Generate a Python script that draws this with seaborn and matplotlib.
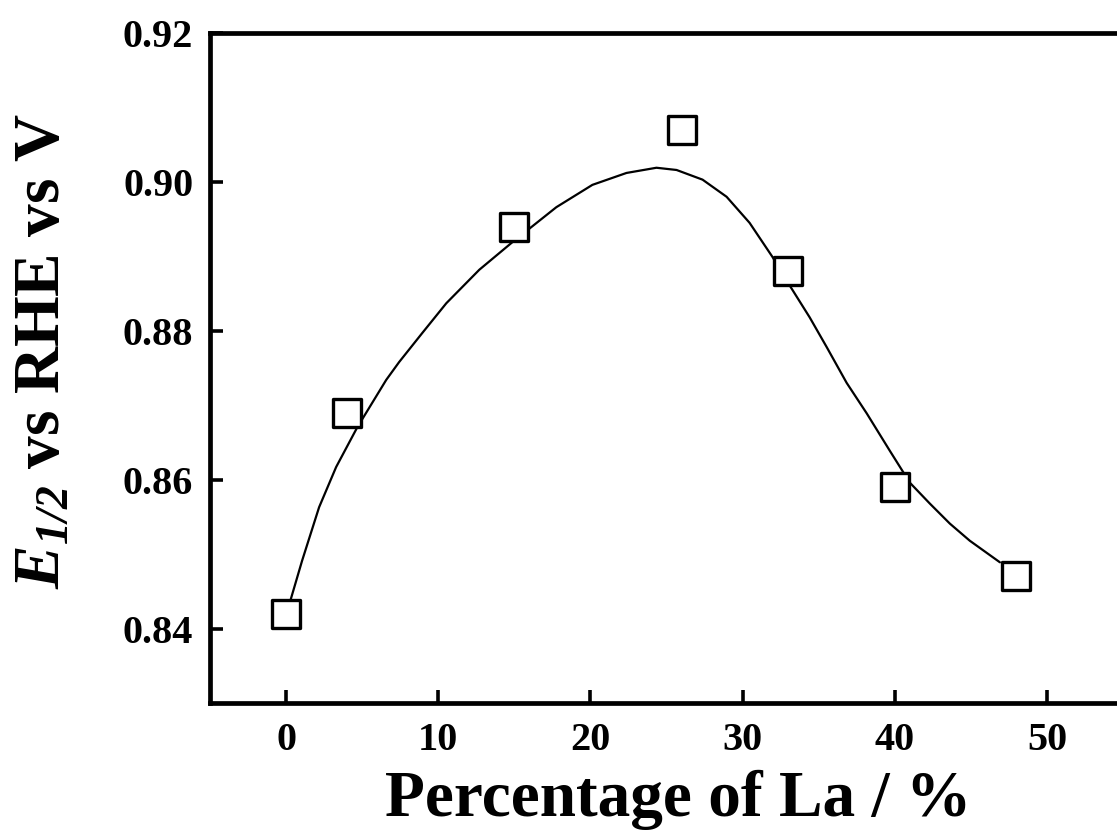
import numpy as np
import pandas as pd
import matplotlib
matplotlib.use("Agg")
import matplotlib.pyplot as plt
import seaborn as sns

# Measured data (squares)
la_percent = [0, 4, 15, 26, 33, 40, 48]
e_half = [0.842, 0.869, 0.894, 0.907, 0.888, 0.859, 0.847]

# Fitted curve
curve_x = [0.26, 1.05, 2.17, 3.29, 4.67, 6.58, 7.43, 8.95, 10.53, 12.70, 14.87,
           17.76, 20.13, 22.37, 24.34, 25.66, 27.37, 28.95, 30.46, 31.97, 33.09,
           34.41, 35.53, 36.84, 38.16, 39.67, 40.99, 42.30, 43.62, 44.93, 46.91]
curve_y = [0.8436, 0.8491, 0.8563, 0.8617, 0.8670, 0.8734, 0.8758, 0.8797, 0.8837,
           0.8882, 0.8919, 0.8966, 0.8996, 0.9012, 0.9019, 0.9016, 0.9003, 0.8980,
           0.8945, 0.8899, 0.8861, 0.8818, 0.8778, 0.8730, 0.8689, 0.8639, 0.8596,
           0.8568, 0.8541, 0.8518, 0.8489]

x_ticks = [0, 10, 20, 30, 40, 50]
y_ticks = [0.84, 0.86, 0.88, 0.90, 0.92]
y_tick_labels = ["0.84", "0.86", "0.88", "0.90", "0.92"]

sns.set_theme(style="ticks")
plt.rcParams["font.family"] = ["Liberation Serif", "DejaVu Serif"]
plt.rcParams["font.weight"] = "bold"
plt.rcParams["text.color"] = "black"
plt.rcParams["axes.labelcolor"] = "black"
plt.rcParams["mathtext.fontset"] = "custom"
plt.rcParams["mathtext.rm"] = "Liberation Serif:bold"
plt.rcParams["mathtext.it"] = "Liberation Serif:italic:bold"
plt.rcParams["mathtext.bf"] = "Liberation Serif:bold"
plt.rcParams["mathtext.bfit"] = "Liberation Serif:italic:bold"
plt.rcParams["mathtext.cal"] = "Liberation Serif:italic"

fig = plt.figure(figsize=(11.17, 8.30), dpi=100)
ax = fig.add_axes([210 / 1117, 1 - 703 / 830, (1123 - 210) / 1117, (703 - 33) / 830])

df_pts = pd.DataFrame({"x": la_percent, "y": e_half})
df_curve = pd.DataFrame({"x": curve_x, "y": curve_y})

sns.lineplot(data=df_curve, x="x", y="y", ax=ax, color="black", linewidth=1.6,
             sort=False, estimator=None)
sns.scatterplot(data=df_pts, x="x", y="y", ax=ax, marker="s", s=20 ** 2,
                facecolor="white", edgecolor="black", linewidth=2.4, zorder=5)

ax.set_xlim(-5, 55)
ax.set_ylim(0.83, 0.92)
ax.set_xticks(x_ticks)
ax.set_yticks(y_ticks)
ax.set_yticklabels(y_tick_labels)

for side in ["left", "bottom", "top", "right"]:
    ax.spines[side].set_linewidth(3.4)
    ax.spines[side].set_color("black")

ax.tick_params(axis="both", direction="in", length=9.5, width=2.6, labelsize=29,
               colors="black", labelcolor="black", top=False, right=False)
ax.tick_params(axis="y", pad=12)
ax.tick_params(axis="x", pad=14)
for lab in ax.get_xticklabels() + ax.get_yticklabels():
    lab.set_fontweight("bold")

ax.set_xlabel("Percentage of La / %", fontsize=47, fontweight="bold")
ax.set_ylabel(r"$\mathbfit{E}_{\mathcal{1/2}}$ vs RHE vs V", fontsize=47,
              fontweight="bold")
ax.xaxis.set_label_coords((678 - 210) / 913, -(770 - 703) / 670)
ax.yaxis.set_label_coords((73 - 210) / 913, (703 - 351) / 670)

fig.savefig("out.png", dpi=100)
